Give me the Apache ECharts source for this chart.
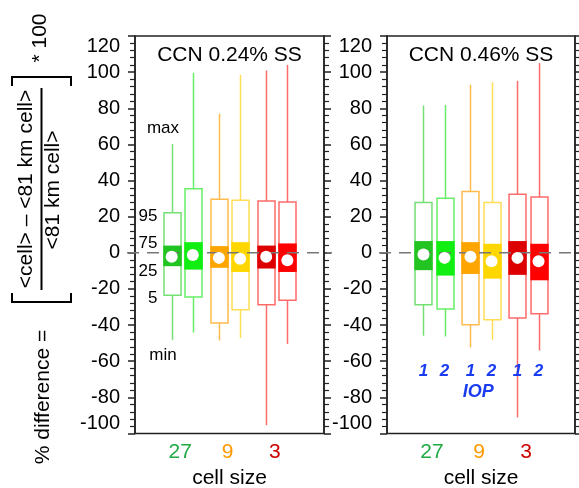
<!DOCTYPE html>
<html><head><meta charset="utf-8">
<script src="https://cdn.jsdelivr.net/npm/echarts@6/dist/echarts.min.js"></script>
<style>html,body{margin:0;padding:0;background:#fff}#c{width:579px;height:488px}</style>
</head><body><div id="c"></div><script>
// ---------- data ----------
const categories = ['27', '9', '3'];          // cell size (km)
const iopLabels = ['1', '2', '1', '2', '1', '2'];
const panelTitles = ['CCN 0.24% SS', 'CCN 0.46% SS'];
const yTicks = [-100, -80, -60, -40, -20, 0, 20, 40, 60, 80, 100, 120];
// order of boxes: 27-IOP1, 27-IOP2, 9-IOP1, 9-IOP2, 3-IOP1, 3-IOP2
// CCN 0.24% SS
const ss024_min  = [-48.2, -44.1, -48.5, -47.1, -95.4, -50.4];
const ss024_p5   = [-23.5, -24.5, -38.9, -31.5, -28.7, -26.3];
const ss024_p25  = [-7.4, -9.3, -8.3, -10.6, -8.7, -10.6];
const ss024_p75  = [4.0, 5.9, 3.7, 5.9, 4.0, 5.2];
const ss024_p95  = [22.2, 35.5, 29.6, 29.1, 28.7, 28.1];
const ss024_max  = [60.2, 99.6, 77.0, 98.5, 100.9, 104.0];
const ss024_mean = [-2.2, -1.2, -2.8, -3.3, -2.2, -4.1];
// CCN 0.46% SS
const ss046_min  = [-45.9, -46.3, -52.4, -48.2, -91.1, -54.1];
const ss046_p5   = [-28.7, -31.1, -39.8, -37.1, -36.1, -33.7];
const ss046_p25  = [-9.6, -12.6, -11.7, -14.3, -12.2, -15.2];
const ss046_p75  = [6.5, 6.5, 5.9, 5.0, 6.5, 5.0];
const ss046_p95  = [27.8, 30.2, 33.9, 27.8, 32.4, 30.9];
const ss046_max  = [81.5, 81.8, 93.1, 94.4, 95.2, 105.0];
const ss046_mean = [-0.9, -2.8, -2.2, -4.7, -2.8, -4.7];
// percentile annotation labels (left panel) and their heights
const pctLabels = ['max', '95', '75', '25', '5', 'min'];
const pctLabelY = [69, 20.3, 5, -10.2, -25.4, -57];

// ---------- styles / layout ----------
const FONT = '"Liberation Sans", Arial, Helvetica, sans-serif';
const FILL = ['#22c422', '#11ee11', '#ffa500', '#ffd700', '#dd0000', '#ff0000'];
const EDGE = ['#74e074', '#66ef66', '#ffbb4d', '#ffdd55', '#ff6a6a', '#ff6a6a'];
const CAT_COLORS = ['#1faa44', '#ff9900', '#cc0000'];
const GROUP_X = [2.5, 5.0, 7.5];
const OFF = 0.56;
const boxX = [];
GROUP_X.forEach(c => { boxX.push(c - OFF, c + OFF); });

const GRIDS = [
  { left: 135, top: 36, width: 189, height: 397.5 },
  { left: 387, top: 36, width: 188, height: 397.5 }
];

function boxData(mn, p5, p25, p75, p95, mx) {
  return boxX.map((x, i) => [x, mn[i], p5[i], p25[i], p75[i], p95[i], mx[i]]);
}
const panels = [
  { box: boxData(ss024_min, ss024_p5, ss024_p25, ss024_p75, ss024_p95, ss024_max), mean: ss024_mean },
  { box: boxData(ss046_min, ss046_p5, ss046_p25, ss046_p75, ss046_p95, ss046_max), mean: ss046_mean }
];

function renderBox(params, api) {
  const i = params.dataIndex;
  const x = api.value(0);
  const Y = v => api.coord([x, v])[1];
  const px = Math.round(api.coord([x, 0])[0]) + 0.5;
  const hw = api.size([0.9, 0])[0] / 2;
  const yMin = Y(api.value(1)), y5 = Y(api.value(2)), y25 = Y(api.value(3)),
        y75 = Y(api.value(4)), y95 = Y(api.value(5)), yMax = Y(api.value(6));
  return {
    type: 'group',
    children: [
      { type: 'line', shape: { x1: px, y1: yMax, x2: px, y2: y95 }, style: { stroke: EDGE[i], lineWidth: 1.5 } },
      { type: 'line', shape: { x1: px, y1: y5, x2: px, y2: yMin }, style: { stroke: EDGE[i], lineWidth: 1.5 } },
      { type: 'rect', shape: { x: px - hw, y: y95, width: 2 * hw, height: y5 - y95 }, style: { fill: 'none', stroke: EDGE[i], lineWidth: 1.5 } },
      { type: 'rect', shape: { x: px - hw - 0.75, y: y75, width: 2 * hw + 1.5, height: y25 - y75 }, style: { fill: FILL[i] } }
    ]
  };
}

function renderZero(params, api) {
  const l = api.coord([0, 0]), r = api.coord([10, 0]);
  return { type: 'line', shape: { x1: l[0] - 8, y1: l[1], x2: r[0] + 8, y2: r[1] },
           style: { stroke: '#777', lineWidth: 1.5, lineDash: [12, 8] } };
}

function renderPct(params, api) {
  const i = params.dataIndex;
  const isWord = pctLabels[i] === 'max' || pctLabels[i] === 'min';
  const p = api.coord([isWord ? 1.48 : 1.19, pctLabelY[i]]);
  return { type: 'text', x: p[0], y: p[1],
           style: { text: pctLabels[i], fill: '#000', fontSize: 17, fontFamily: FONT,
                    align: isWord ? 'center' : 'right', verticalAlign: 'middle' } };
}

function renderIop(params, api) {
  const i = params.dataIndex;
  const p = api.coord([boxX[i], -65.4]);
  return { type: 'text', x: p[0], y: p[1],
           style: { text: iopLabels[i], fill: '#1a3cf0', fontSize: 17, fontFamily: FONT,
                    fontWeight: 'bold', fontStyle: 'italic', align: 'center', verticalAlign: 'middle' } };
}
function renderIopWord(params, api) {
  const p = api.coord([4.85, -77]);
  return { type: 'text', x: p[0], y: p[1],
           style: { text: 'IOP', fill: '#1a3cf0', fontSize: 18, fontFamily: FONT,
                    fontWeight: 'bold', fontStyle: 'italic', align: 'center', verticalAlign: 'middle' } };
}

const xAxes = [], yAxes = [], series = [], grids = [];
const rich = {};
categories.forEach((c, k) => { rich['c' + k] = { color: CAT_COLORS[k], fontSize: 21, fontFamily: FONT }; });

GRIDS.forEach((g, gi) => {
  grids.push(Object.assign({ show: true, borderColor: '#222', borderWidth: 1.5, backgroundColor: 'transparent',
                             containLabel: false, outerBoundsMode: 'none' }, g));
  xAxes.push({
    gridIndex: gi, type: 'value', min: 0, max: 10, interval: 2.5,
    axisLine: { show: false }, axisTick: { show: false }, splitLine: { show: false },
    axisLabel: {
      margin: 8, padding: [0, 4, 0, 0],
      formatter: v => { const k = GROUP_X.indexOf(v); return k < 0 ? '' : '{c' + k + '|' + categories[k] + '}'; },
      rich: rich
    },
    name: 'cell size', nameLocation: 'middle', nameGap: 32,
    nameTextStyle: { fontSize: 21, color: '#000', fontFamily: FONT }
  });
  ['left', 'right'].forEach(pos => {
    yAxes.push({
      gridIndex: gi, type: 'value', position: pos, min: yTicks[0], max: yTicks[yTicks.length - 1], interval: 20,
      axisLine: { show: true, lineStyle: { color: '#222', width: 1.5 } },
      axisTick: { show: true, inside: false, length: 7, lineStyle: { color: '#222', width: 1.5 } },
      minorTick: { show: true, splitNumber: 5, length: 5, lineStyle: { color: '#222', width: 1.2 } },
      splitLine: { show: false }, minorSplitLine: { show: false },
      axisLabel: {
        show: pos === 'left', margin: 15, fontSize: 20, color: '#000', fontFamily: FONT,
        verticalAlignMaxLabel: 'top', verticalAlignMinLabel: 'bottom'
      }
    });
  });
  const yi = gi * 2;
  series.push({
    type: 'custom', xAxisIndex: gi, yAxisIndex: yi, clip: false, z: 2,
    renderItem: renderBox, data: panels[gi].box, silent: true
  });
  series.push({
    type: 'custom', xAxisIndex: gi, yAxisIndex: yi, clip: false, z: 3,
    renderItem: renderZero, data: [[0]], silent: true
  });
  series.push({
    type: 'scatter', xAxisIndex: gi, yAxisIndex: yi, z: 4, symbol: 'circle', symbolSize: 12,
    itemStyle: { color: '#fff', borderWidth: 0, opacity: 1 }, silent: true,
    data: boxX.map((x, i) => [x, panels[gi].mean[i]])
  });
  if (gi === 0) {
    series.push({ type: 'custom', xAxisIndex: gi, yAxisIndex: yi, clip: false, z: 5,
      renderItem: renderPct, data: pctLabels.map((l, i) => [i]), silent: true });
  } else {
    series.push({ type: 'custom', xAxisIndex: gi, yAxisIndex: yi, clip: false, z: 5,
      renderItem: renderIop, data: iopLabels.map((l, i) => [i]), silent: true });
    series.push({ type: 'custom', xAxisIndex: gi, yAxisIndex: yi, clip: false, z: 5,
      renderItem: renderIopWord, data: [[0]], silent: true });
  }
});

const R = Math.PI / 2;
const txt = (x, y, text, rot, extra) => ({
  type: 'text', x: x, y: y, rotation: rot || 0,
  style: Object.assign({ text: text, fill: '#000', fontSize: 21, fontFamily: FONT, align: 'center', verticalAlign: 'middle' }, extra || {})
});
const graphic = [
  txt(229.5, 55, panelTitles[0]),
  txt(481, 55, panelTitles[1]),
  txt(40, 38, '* 100', R),
  txt(26, 189, '<cell> \u2013 <81 km cell>', R),
  txt(53, 190, '<81 km cell>', R),
  txt(43, 397, '% difference =', R),
  { type: 'line', shape: { x1: 41.5, y1: 88, x2: 41.5, y2: 290 }, style: { stroke: '#000', lineWidth: 2 } },
  { type: 'polyline', shape: { points: [[12, 86], [12, 77], [71, 77], [71, 86]] }, style: { stroke: '#000', lineWidth: 2, fill: null } },
  { type: 'polyline', shape: { points: [[12, 293], [12, 302], [71, 302], [71, 293]] }, style: { stroke: '#000', lineWidth: 2, fill: null } }
];

const chart = echarts.init(document.getElementById('c'), null, { renderer: 'canvas' });
chart.setOption({
  animation: false,
  backgroundColor: '#fff',
  textStyle: { fontFamily: FONT },
  grid: grids, xAxis: xAxes, yAxis: yAxes, series: series, graphic: graphic
});
</script></body></html>
